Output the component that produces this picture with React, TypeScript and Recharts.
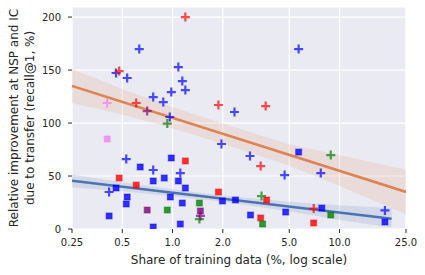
import React from "react";
import { Area, CartesianGrid, ComposedChart, Label, Line, Scatter, XAxis, YAxis } from "recharts";

const X_TICKS = [0.25, 0.5, 1, 2, 5, 10, 25];
const Y_TICKS = [0, 50, 100, 150, 200];

// "+" markers
const bluePlus = [
  { x: 0.459, y: 147.2 }, { x: 0.632, y: 169.8 }, { x: 0.535, y: 142.5 }, { x: 1.083, y: 152.8 },
  { x: 1.144, y: 139.6 }, { x: 1.193, y: 131.1 }, { x: 0.766, y: 124.5 }, { x: 0.983, y: 129.2 },
  { x: 0.88, y: 119.8 }, { x: 0.963, y: 105.7 }, { x: 5.69, y: 169.8 }, { x: 2.35, y: 110.4 },
  { x: 1.963, y: 80.2 }, { x: 2.91, y: 68.9 }, { x: 0.528, y: 66 }, { x: 0.766, y: 55.7 },
  { x: 1.113, y: 52.8 }, { x: 0.417, y: 34.9 }, { x: 4.69, y: 50.9 }, { x: 7.72, y: 52.8 },
  { x: 18.7, y: 17.5 },
];
const redPlus = [
  { x: 0.479, y: 149 }, { x: 1.193, y: 200 }, { x: 0.606, y: 118.9 }, { x: 1.883, y: 117 },
  { x: 3.61, y: 116 }, { x: 3.37, y: 59.4 }, { x: 7.0, y: 19.3 },
];
const greenPlus = [{ x: 0.93, y: 99.5 }, { x: 1.448, y: 9.4 }, { x: 3.41, y: 31.1 }, { x: 8.86, y: 69.8 }];
const purplePlus = [{ x: 0.705, y: 111.3 }, { x: 1.468, y: 12.3 }];
const pinkPlus = [{ x: 0.406, y: 118.9 }];

// square markers
const blueSquare = [
  { x: 0.64, y: 58.5 }, { x: 0.983, y: 67 }, { x: 0.892, y: 48.1 }, { x: 0.766, y: 45.3 },
  { x: 1.083, y: 45.3 }, { x: 0.459, y: 38.7 }, { x: 1.193, y: 38.7 }, { x: 0.535, y: 30.2 },
  { x: 0.97, y: 30.2 }, { x: 0.528, y: 23.6 }, { x: 1.144, y: 24.5 }, { x: 1.99, y: 26.4 },
  { x: 2.38, y: 27.4 }, { x: 0.417, y: 12.3 }, { x: 1.113, y: 4.7 }, { x: 0.766, y: 1.9 },
  { x: 2.93, y: 13.2 }, { x: 4.76, y: 16 }, { x: 5.69, y: 72.6 }, { x: 7.83, y: 19.8 },
  { x: 18.7, y: 6.6 },
];
const redSquare = [
  { x: 1.193, y: 64.2 }, { x: 0.479, y: 48.1 }, { x: 0.606, y: 41.5 }, { x: 1.883, y: 34.9 },
  { x: 3.66, y: 27.4 }, { x: 3.37, y: 10.4 }, { x: 7.0, y: 5.7 },
];
const greenSquare = [{ x: 0.93, y: 17.9 }, { x: 1.448, y: 24.5 }, { x: 3.46, y: 4.7 }, { x: 8.86, y: 13.2 }];
const purpleSquare = [{ x: 0.705, y: 17.9 }, { x: 1.468, y: 17 }];
const pinkSquare = [{ x: 0.406, y: 84.9 }];

// regression fits and their confidence bands
const orangeFit = [{ x: 0.25, y: 135 }, { x: 25, y: 35 }];
const orangeBand = [
  { x: 0.25, band: [119, 151] }, { x: 0.5, band: [108, 132] }, { x: 1, band: [95, 115] },
  { x: 2, band: [80.5, 99.5] }, { x: 5, band: [60, 80] }, { x: 10, band: [40.5, 69.5] },
  { x: 25, band: [14, 56] },
];
const blueFit = [{ x: 0.25, y: 45.5 }, { x: 20.5, y: 9.7 }];
const blueBand = [
  { x: 0.25, band: [39.5, 51.5] }, { x: 0.5, band: [35.7, 44.1] }, { x: 1, band: [31, 37.4] },
  { x: 2, band: [25.6, 31.6] }, { x: 5, band: [16.7, 25.7] }, { x: 10, band: [8.5, 22.5] },
  { x: 20.5, band: [1.5, 19.5] },
];

const BG = "#EAEAF2";
const TEXT = "#262626";
const FONT = "DejaVu Sans";

const plus = (color: string) => (p: any) => {
  const { cx, cy } = p;
  const r = 4.5;
  return (
    <path
      d={`M${cx - r},${cy}H${cx + r}M${cx},${cy - r}V${cy + r}`}
      stroke={color}
      strokeOpacity={0.7}
      strokeWidth={2.2}
      fill="none"
    />
  );
};

const square = (color: string) => (p: any) => {
  const { cx, cy } = p;
  return (
    <rect
      x={cx - 3}
      y={cy - 3}
      width={6}
      height={6}
      fill={color}
      fillOpacity={0.8}
      stroke={color}
      strokeOpacity={0.4}
      strokeWidth={1.2}
    />
  );
};

function YLabel({ viewBox }: any) {
  const cy = viewBox.y + viewBox.height / 2;
  return (
    <g fill={TEXT} fontFamily={FONT} fontSize={12}>
      <text x={13.5} y={cy} transform={`rotate(-90, 13.5, ${cy})`} textAnchor="middle" dominantBaseline="central">
        Relative improvement at NSP and IC
      </text>
      <text x={29.5} y={cy} transform={`rotate(-90, 29.5, ${cy})`} textAnchor="middle" dominantBaseline="central">
        due to transfer (recall@1, %)
      </text>
    </g>
  );
}

function XLabel({ viewBox }: any) {
  const cx = viewBox.x + viewBox.width / 2;
  return (
    <text x={cx} y={264} textAnchor="middle" fill={TEXT} fontFamily={FONT} fontSize={12}>
      Share of training data (%, log scale)
    </text>
  );
}

const fmtX = (v: number) => (v === 0.25 ? "0.25" : v.toFixed(1));
const tickStyle = { fill: TEXT, fontSize: 10, fontFamily: FONT };

export default function App() {
  return (
    <div style={{ position: "absolute", left: 0, top: 0 }}>
      <ComposedChart width={425} height={275} margin={{ top: 7, right: 19, bottom: 0, left: 0 }}>
        <CartesianGrid fill={BG} stroke="#ffffff" strokeWidth={1.2} />
        <XAxis
          dataKey="x"
          type="number"
          scale="log"
          domain={[0.25, 25]}
          ticks={X_TICKS}
          tickFormatter={fmtX}
          allowDataOverflow
          axisLine={false}
          tickSize={4}
          tickMargin={6}
          tickLine={{ stroke: TEXT }}
          tick={tickStyle}
          height={46}
        >
          <Label content={<XLabel />} />
        </XAxis>
        <YAxis
          type="number"
          domain={[0, 209.5]}
          ticks={Y_TICKS}
          allowDataOverflow
          axisLine={false}
          tickSize={4}
          tickMargin={7}
          tickLine={{ stroke: TEXT }}
          tick={tickStyle}
          width={72}
        >
          <Label content={<YLabel />} />
        </YAxis>

        <Area data={orangeBand} dataKey="band" type="linear" fill="#DD8452" fillOpacity={0.15} stroke="none" isAnimationActive={false} />
        <Area data={blueBand} dataKey="band" type="linear" fill="#4C72B0" fillOpacity={0.15} stroke="none" isAnimationActive={false} />
        <Line data={orangeFit} dataKey="y" type="linear" stroke="#DD8452" strokeWidth={2.6} dot={false} isAnimationActive={false} />
        <Line data={blueFit} dataKey="y" type="linear" stroke="#4C72B0" strokeWidth={2.6} dot={false} isAnimationActive={false} />

        <Scatter data={blueSquare} dataKey="y" shape={square("#0000ff")} isAnimationActive={false} />
        <Scatter data={redSquare} dataKey="y" shape={square("#ff0000")} isAnimationActive={false} />
        <Scatter data={greenSquare} dataKey="y" shape={square("#008000")} isAnimationActive={false} />
        <Scatter data={purpleSquare} dataKey="y" shape={square("#800080")} isAnimationActive={false} />
        <Scatter data={pinkSquare} dataKey="y" shape={square("#ee82ee")} isAnimationActive={false} />

        <Scatter data={bluePlus} dataKey="y" shape={plus("#0000ff")} isAnimationActive={false} />
        <Scatter data={redPlus} dataKey="y" shape={plus("#ff0000")} isAnimationActive={false} />
        <Scatter data={greenPlus} dataKey="y" shape={plus("#008000")} isAnimationActive={false} />
        <Scatter data={purplePlus} dataKey="y" shape={plus("#800080")} isAnimationActive={false} />
        <Scatter data={pinkPlus} dataKey="y" shape={plus("#ee82ee")} isAnimationActive={false} />
      </ComposedChart>
    </div>
  );
}
